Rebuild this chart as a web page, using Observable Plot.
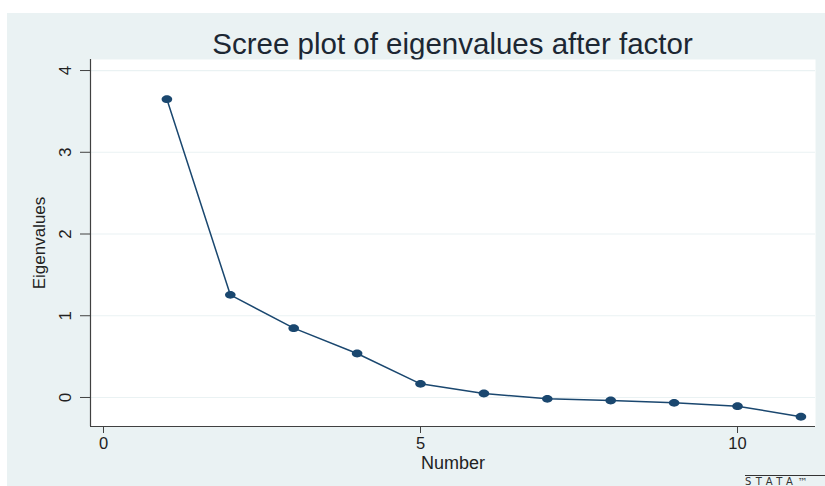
<!DOCTYPE html>
<html><head><meta charset="utf-8">
<script src="https://cdn.jsdelivr.net/npm/d3@7"></script>
<script src="https://cdn.jsdelivr.net/npm/@observablehq/plot@0.6"></script>
<style>
html,body{margin:0;padding:0;background:#fff;}
#bg{position:absolute;left:7px;top:13px;width:818px;height:473px;background:#eaf2f3;font-family:"Liberation Sans",Arial,sans-serif;overflow:hidden;}
#title{position:absolute;left:83px;width:725px;top:16px;line-height:29px;text-align:center;font-size:29.5px;color:#1c2733;white-space:nowrap;}
#chart{position:absolute;left:0;top:46px;}
#logo{position:absolute;left:738px;top:462px;width:90px;border-top:1px solid #333;font-family:"DejaVu Sans",sans-serif;font-size:10px;letter-spacing:4.5px;color:#333;line-height:10px;padding-top:1px;}
</style></head>
<body>
<div id="bg">
  <div id="title">Scree plot of eigenvalues after factor</div>
  <div id="chart"></div>
  <div id="logo">STATA™</div>
</div>
<script>
const numbers = [1, 2, 3, 4, 5, 6, 7, 8, 9, 10, 11];
const eigenvalues = [3.649, 1.256, 0.848, 0.538, 0.167, 0.049, -0.016, -0.037, -0.065, -0.106, -0.236];
const xTicks = [0, 5, 10];
const yTicks = [0, 1, 2, 3, 4];
const xDomain = [-0.205, 11.23];
const yDomain = [-0.355, 4.135];

const data = numbers.map((n, i) => ({n, v: eigenvalues[i]}));
const navy = "#1a476f";
const axisColor = "#404040";

const ellipse = {
  draw(context) {
    const rx = 5.3, ry = 3.9, k = 0.5523;
    context.moveTo(rx, 0);
    context.bezierCurveTo(rx, ry * k, rx * k, ry, 0, ry);
    context.bezierCurveTo(-rx * k, ry, -rx, ry * k, -rx, 0);
    context.bezierCurveTo(-rx, -ry * k, -rx * k, -ry, 0, -ry);
    context.bezierCurveTo(rx * k, -ry, rx, -ry * k, rx, 0);
    context.closePath();
  }
};

const chart = Plot.plot({
  width: 818,
  height: 427,
  marginTop: 0,
  marginLeft: 83,
  marginRight: 10,
  marginBottom: 60,
  style: {background: "transparent", fontFamily: "'Liberation Sans', Arial, sans-serif", color: "#222"},
  x: {domain: xDomain},
  y: {domain: yDomain},
  marks: [
    Plot.frame({fill: "white", stroke: "none"}),
    Plot.ruleY(yTicks, {stroke: "#eaf2f3", strokeWidth: 1.2}),
    Plot.ruleX([xDomain[0]], {stroke: axisColor, strokeWidth: 1.2}),
    Plot.ruleY([yDomain[0]], {stroke: axisColor, strokeWidth: 1.2}),
    Plot.axisY({ticks: yTicks, tickSize: 10, tickFormat: () => "", stroke: axisColor, label: null}),
    Plot.text(yTicks, {y: d => d, text: d => String(d), frameAnchor: "left", dx: -25, rotate: -90, fontSize: 17, textAnchor: "middle", lineAnchor: "middle", fill: "#222"}),
    Plot.axisX({ticks: xTicks, tickSize: 7, tickPadding: 4, fontSize: 16.5, stroke: axisColor, fill: "#222", label: null}),
    Plot.text(["Number"], {text: d => d, frameAnchor: "bottom", dy: 42, lineAnchor: "bottom", fontSize: 18, fill: "#222"}),
    Plot.text(["Eigenvalues"], {text: d => d, frameAnchor: "left", dx: -50.5, rotate: -90, fontSize: 17, textAnchor: "middle", lineAnchor: "middle", fill: "#222"}),
    Plot.line(data, {x: "n", y: "v", stroke: navy, strokeWidth: 1.5}),
    Plot.dot(data, {x: "n", y: "v", symbol: ellipse, fill: navy, stroke: "none"})
  ]
});
document.getElementById("chart").appendChild(chart);
</script>
</body></html>
